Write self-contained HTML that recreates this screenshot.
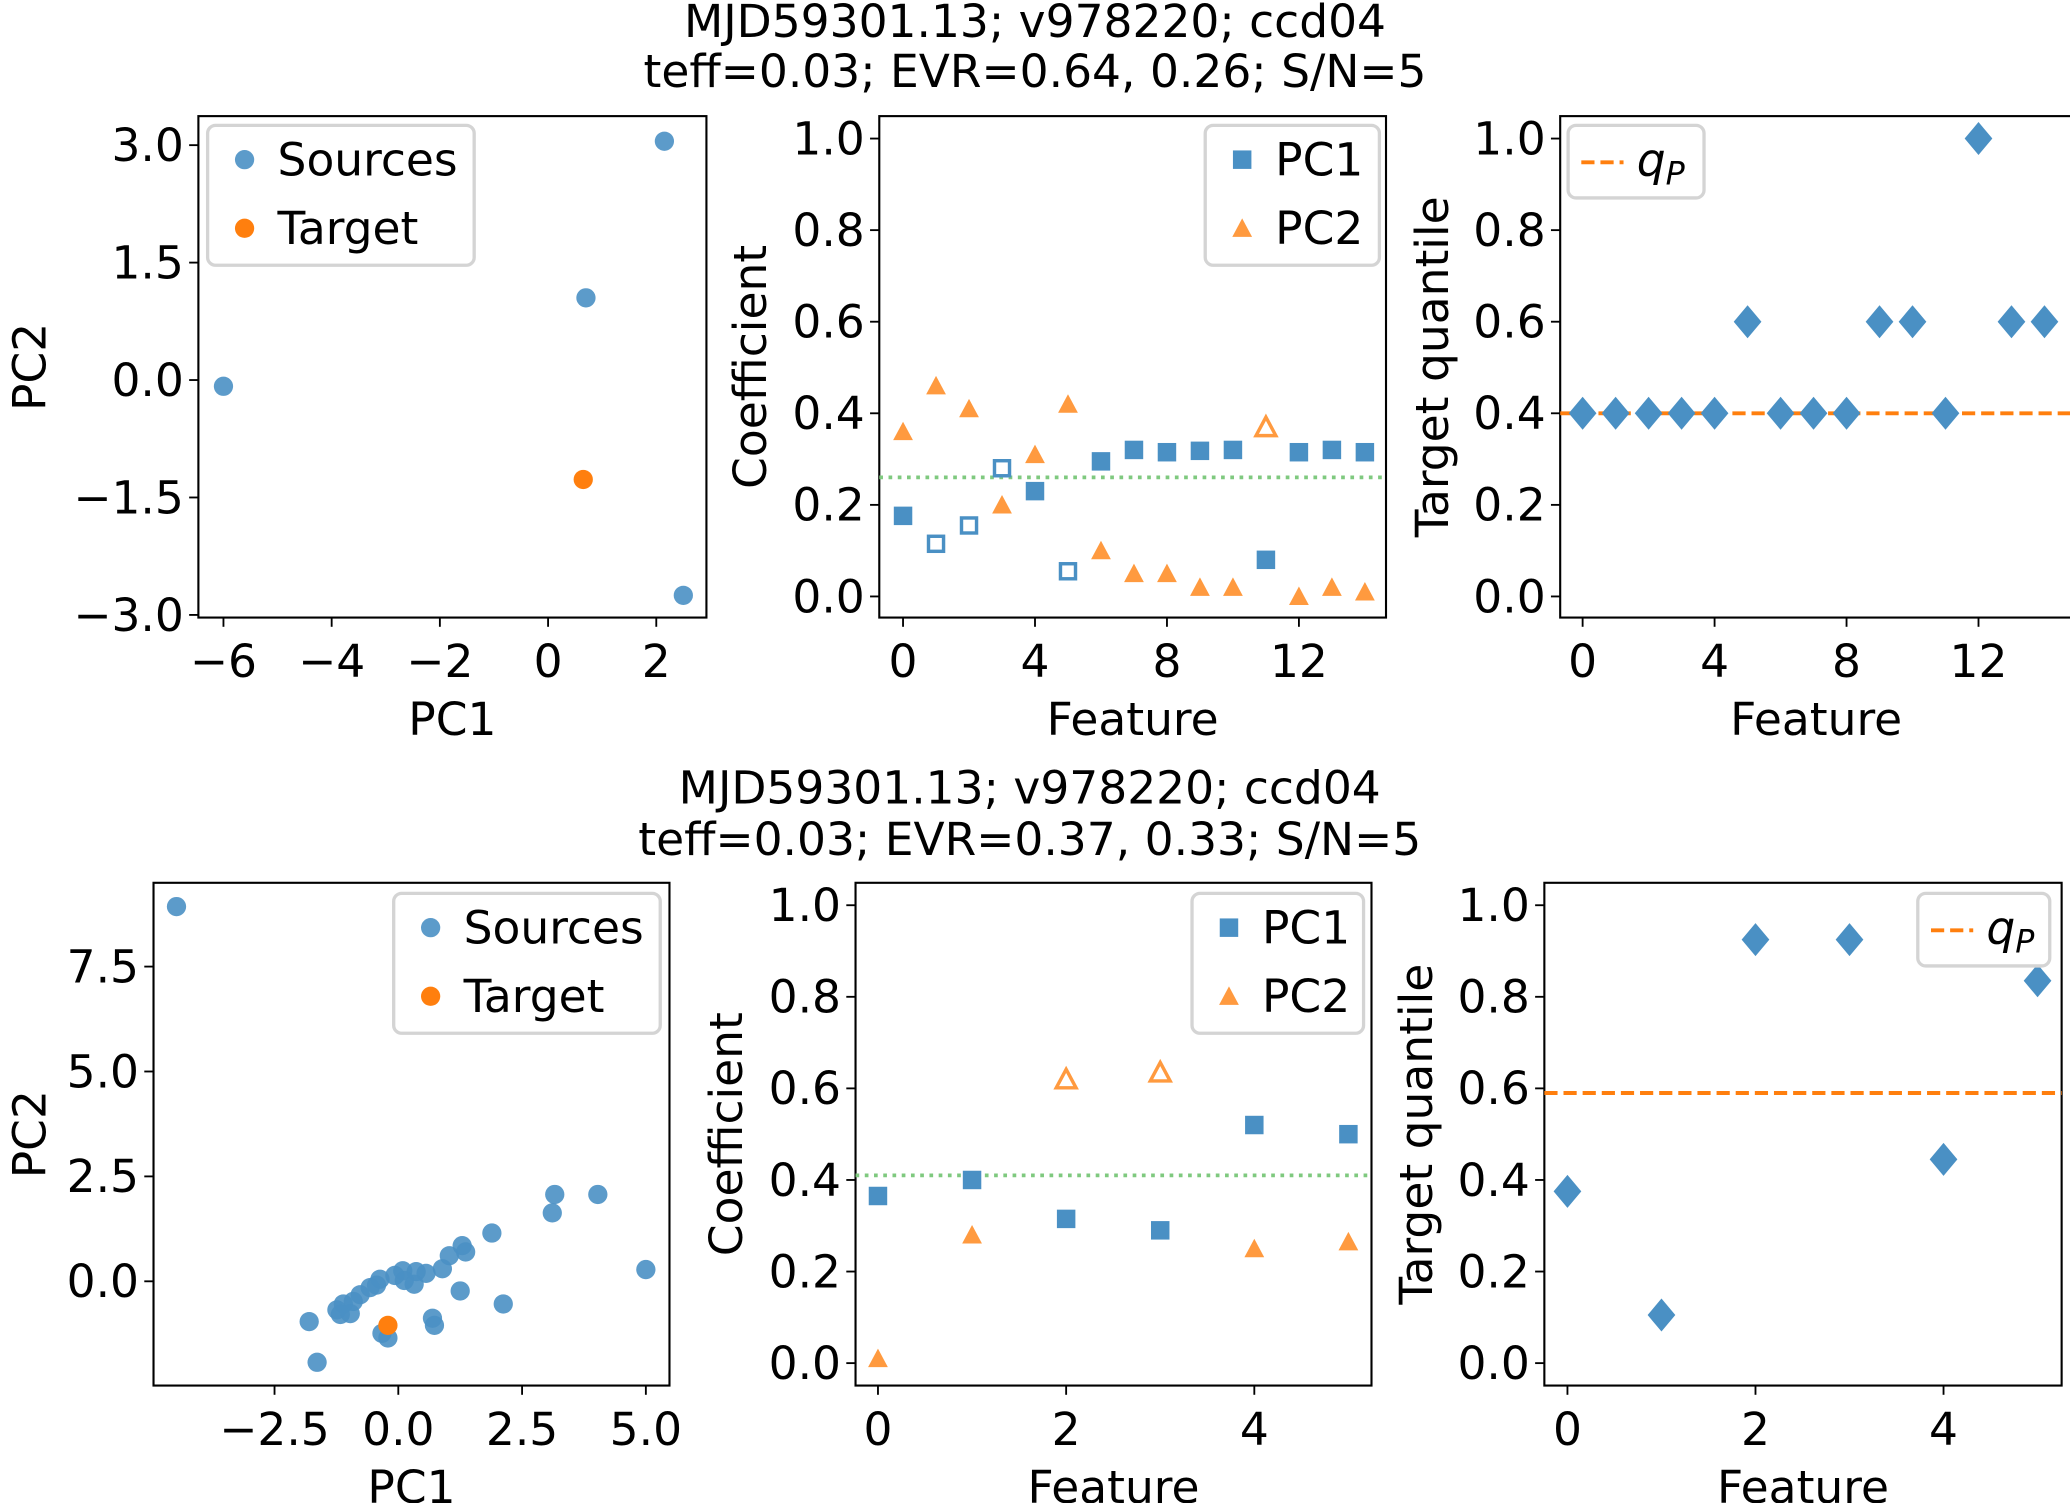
<!DOCTYPE html>
<html><head><meta charset="utf-8"><style>
html,body{margin:0;padding:0;background:#fff}
svg{display:block}
text{font-family:"DejaVu Sans","Liberation Sans",sans-serif;fill:#000}
</style></head><body>
<svg id="fig" width="2070" height="1503" viewBox="0 0 1568 1139" xmlns="http://www.w3.org/2000/svg">
<text x="784" y="28" font-size="34.5" text-anchor="middle">MJD59301.13; v978220; ccd04</text>
<text x="784" y="66" font-size="34.5" text-anchor="middle">teff=0.03; EVR=0.64, 0.26; S/N=5</text>
<text x="780" y="609" font-size="34.5" text-anchor="middle">MJD59301.13; v978220; ccd04</text>
<text x="780" y="648" font-size="34.5" text-anchor="middle">teff=0.03; EVR=0.37, 0.33; S/N=5</text>
</svg>
<script>
// ---- data ----
const topScatterX = [-6.0, 2.15, 0.7, 2.5];
const topScatterY = [-0.08, 3.05, 1.05, -2.75];
const topTarget = [0.65, -1.27];
const topFeatures = [0,1,2,3,4,5,6,7,8,9,10,11,12,13,14];
const topPC1 = [0.176,0.115,0.155,0.28,0.23,0.055,0.295,0.32,0.315,0.318,0.32,0.08,0.315,0.32,0.315];
const topPC1Hollow = [false,true,true,true,false,true,false,false,false,false,false,false,false,false,false];
const topPC2 = [0.36,0.46,0.41,0.20,0.31,0.42,0.10,0.05,0.05,0.02,0.02,0.37,0.0,0.02,0.01];
const topPC2Hollow = [false,false,false,false,false,false,false,false,false,false,false,true,false,false,false];
const topEVRLine = 0.26;
const topQuantiles = [0.4,0.4,0.4,0.4,0.4,0.6,0.4,0.4,0.4,0.6,0.6,0.4,1.0,0.6,0.6];
const topQP = 0.4;

const botScatterX = [-4.48,3.16,4.03,3.11,1.89,1.29,1.36,1.03,0.89,5.0,0.56,0.36,0.32,0.09,0.12,-0.07,-0.37,-0.44,-0.57,-0.77,-0.91,-1.11,-1.24,-1.17,-0.97,1.25,2.12,-1.8,0.69,0.73,-0.33,-0.21,-1.64];
const botScatterY = [8.93,2.07,2.07,1.63,1.15,0.85,0.70,0.61,0.30,0.28,0.19,0.23,-0.07,0.25,0.02,0.14,0.05,-0.09,-0.15,-0.32,-0.48,-0.54,-0.68,-0.79,-0.77,-0.23,-0.54,-0.96,-0.88,-1.05,-1.24,-1.35,-1.93];
const botTarget = [-0.21, -1.05];
const botFeatures = [0,1,2,3,4,5];
const botPC1 = [0.365,0.40,0.315,0.29,0.52,0.50];
const botPC1Hollow = [false,false,false,false,false,false];
const botPC2 = [0.01,0.28,0.62,0.635,0.25,0.265];
const botPC2Hollow = [false,false,true,true,false,false];
const botEVRLine = 0.41;
const botQuantiles = [0.375,0.105,0.925,0.925,0.445,0.835];
const botQP = 0.59;

const coefTicks = [0.0,0.2,0.4,0.6,0.8,1.0];
const coefTickLabels = ["0.0","0.2","0.4","0.6","0.8","1.0"];
const topFeatTicks = [0,4,8,12];
const botFeatTicks = [0,2,4];
const topPCxTicks = [-6,-4,-2,0,2];
const topPCxLabels = ["\u22126","\u22124","\u22122","0","2"];
const topPCyTicks = [3.0,1.5,0.0,-1.5,-3.0];
const topPCyLabels = ["3.0","1.5","0.0","\u22121.5","\u22123.0"];
const botPCxTicks = [-2.5,0,2.5,5.0];
const botPCxLabels = ["\u22122.5","0.0","2.5","5.0"];
const botPCyTicks = [0,2.5,5.0,7.5];
const botPCyLabels = ["0.0","2.5","5.0","7.5"];

const BLUE='#4a90c4', ORANGE='#ff7f0e', ORANGE_A='#ff9a3f', GREEN='#7fc97f';
const FS=34.5;
const svg=document.getElementById('fig');
const NS='http://www.w3.org/2000/svg';
function mk(tag,attrs,parent){const e=document.createElementNS(NS,tag);for(const k in attrs)e.setAttribute(k,attrs[k]);(parent||svg).appendChild(e);return e;}
function lin(d0,d1,r0,r1){return v=>r0+(v-d0)*(r1-r0)/(d1-d0);}

function axes(name,L,R,T,B,sx,sy,xt,xl,yt,yl,xlabel,ylabel,ylabX){
  const g=mk('g',{});
  
  
  const fr=mk('rect',{x:L,y:T,width:R-L,height:B-T,fill:'none',stroke:'#000','stroke-width':1.6},g);
  
  
  xt.forEach((v,i)=>{const x=sx(v);mk('line',{x1:x,x2:x,y1:B,y2:B+7,stroke:'#000','stroke-width':1.4},g);
    const t=mk('text',{x:x,y:B+45,'font-size':FS,'text-anchor':'middle'},g);t.textContent=xl[i];
    
    });
  yt.forEach((v,i)=>{const y=sy(v);mk('line',{x1:L-7,x2:L,y1:y,y2:y,stroke:'#000','stroke-width':1.4},g);
    const t=mk('text',{x:L-11,y:y+12,'font-size':FS,'text-anchor':'end'},g);t.textContent=yl[i];
    
    });
  const xlab=mk('text',{x:(L+R)/2,y:B+89,'font-size':FS,'text-anchor':'middle'},g);xlab.textContent=xlabel;
  
  
  const yc=(T+B)/2;
  const ylab=mk('text',{x:ylabX,y:yc,'font-size':FS,'text-anchor':'middle',transform:`rotate(-90 ${ylabX} ${yc})`},g);ylab.textContent=ylabel;
  
  
  return g;
}
function legendBox(g,x,y,w,h){const r=mk('rect',{x:x,y:y,width:w,height:h,rx:6,fill:'#fff','fill-opacity':0.85,stroke:'#d4d4d4','stroke-width':2.5},g);
  
  }
function legText(g,x,y,s,name){const t=mk('text',{x:x,y:y,'font-size':FS},g);t.textContent=s;
  
  return t;}
function square(g,x,y,hollow){const s=14;const e=mk('rect',{x:x-s/2,y:y-s/2,width:s,height:s,fill:hollow?'none':BLUE,stroke:BLUE,'stroke-width':hollow?2.6:0},g);
  if(hollow){e.setAttribute('x',x-s/2+1.3);e.setAttribute('y',y-s/2+1.3);e.setAttribute('width',s-2.6);e.setAttribute('height',s-2.6);}return e;}
function tri(g,x,y,hollow){const h=7.5;const e=mk('polygon',{points:`${x},${y-h} ${x+h},${y+h-1} ${x-h},${y+h-1}`,fill:hollow?'none':ORANGE_A,stroke:ORANGE_A,'stroke-width':hollow?2.6:0},g);return e;}
function diamond(g,x,y){return mk('polygon',{points:`${x},${y-12.5} ${x+10.5},${y} ${x},${y+12.5} ${x-10.5},${y}`,fill:BLUE},g);}
function dot(g,x,y,c,r){return mk('circle',{cx:x,cy:y,r:r||7.3,fill:c,'fill-opacity':c===BLUE?0.9:1},g);}

function scatterPanel(name,L,R,T,B,sx,sy,xs,ys,tg,xt,xl,yt,yl,ylabX,leg){
  const g=axes(name,L,R,T,B,sx,sy,xt,xl,yt,yl,'PC1','PC2',ylabX);
  xs.forEach((v,i)=>{const c=dot(g,sx(v),sy(ys[i]),BLUE);
    
    });
  const t=dot(g,sx(tg[0]),sy(tg[1]),ORANGE);
  
  
  legendBox(g,leg[0],leg[1],leg[2],106);
  dot(g,leg[0]+28,leg[1]+26,BLUE);legText(g,leg[0]+53,leg[1]+38,'Sources','legend-sources');
  dot(g,leg[0]+28,leg[1]+78,ORANGE);legText(g,leg[0]+53,leg[1]+90,'Target','legend-target');
}
function coefPanel(name,L,R,T,B,sx,sy,feat,p1,h1,p2,h2,line,ft,leg){
  const g=axes(name,L,R,T,B,sx,sy,ft,ft.map(String),coefTicks,coefTickLabels,'Feature','Coefficient',L-86);
  const ln=mk('line',{x1:L,x2:R,y1:sy(line),y2:sy(line),stroke:GREEN,'stroke-width':2.8,'stroke-dasharray':'2.8 4.2'},g);
  
  
  feat.forEach((f,i)=>{const s=square(g,sx(f),sy(p1[i]),h1[i]);
    
    
    const t=tri(g,sx(f),sy(p2[i]),h2[i]);
    
    });
  legendBox(g,leg[0],leg[1],leg[2],106);
  square(g,leg[0]+28,leg[1]+26,false);legText(g,leg[0]+53,leg[1]+38,'PC1','legend-pc1');
  tri(g,leg[0]+28,leg[1]+78,false);legText(g,leg[0]+53,leg[1]+90,'PC2','legend-pc2');
}
function quantPanel(name,L,R,T,B,sx,sy,feat,q,qp,ft,leg){
  const g=axes(name,L,R,T,B,sx,sy,ft,ft.map(String),coefTicks,coefTickLabels,'Feature','Target quantile',L-85);
  const ln=mk('line',{x1:L,x2:R,y1:sy(qp),y2:sy(qp),stroke:ORANGE,'stroke-width':3,'stroke-dasharray':'10 4.5'},g);
  
  
  feat.forEach((f,i)=>{const d=diamond(g,sx(f),sy(q[i]));
    
    });
  legendBox(g,leg[0],leg[1],leg[2],55);
  mk('line',{x1:leg[0]+10,x2:leg[0]+42,y1:leg[1]+28,y2:leg[1]+28,stroke:ORANGE,'stroke-width':3,'stroke-dasharray':'10 4.5'},g);
  const t=mk('text',{x:leg[0]+52,y:leg[1]+38,'font-size':FS,'font-style':'italic'},g);
  
  
  t.innerHTML='q<tspan font-size="24" dy="7">P</tspan>';
}

// top row
scatterPanel('top-pca-scatter',150,535,88,468,lin(0,2,415,497),lin(0,1.5,288,199),topScatterX,topScatterY,topTarget,topPCxTicks,topPCxLabels,topPCyTicks,topPCyLabels,34,[157,95,202]);
coefPanel('top-coefficient-plot',666,1050,88,468,lin(0,4,684,784),lin(0,1,452,105),topFeatures,topPC1,topPC1Hollow,topPC2,topPC2Hollow,topEVRLine,topFeatTicks,[913,95,132]);
quantPanel('top-quantile-plot',1182,1570,88,468,lin(0,4,1199,1299),lin(0,1,452,105),topFeatures,topQuantiles,topQP,topFeatTicks,[1188,95,103]);
// bottom row
scatterPanel('bottom-pca-scatter',116,507,669,1050,lin(0,2.5,301.5,395.3),lin(0,2.5,971,891.5),botScatterX,botScatterY,botTarget,botPCxTicks,botPCxLabels,botPCyTicks,botPCyLabels,34,[298,677,202]);
coefPanel('bottom-coefficient-plot',648,1039,669,1050,lin(0,2,665,807.6),lin(0,1,1033,686),botFeatures,botPC1,botPC1Hollow,botPC2,botPC2Hollow,botEVRLine,botFeatTicks,[903,677,130]);
quantPanel('bottom-quantile-plot',1170,1562,669,1050,lin(0,2,1187.5,1330),lin(0,1,1033,686),botFeatures,botQuantiles,botQP,botFeatTicks,[1453,677,100]);
</script>
</body></html>
